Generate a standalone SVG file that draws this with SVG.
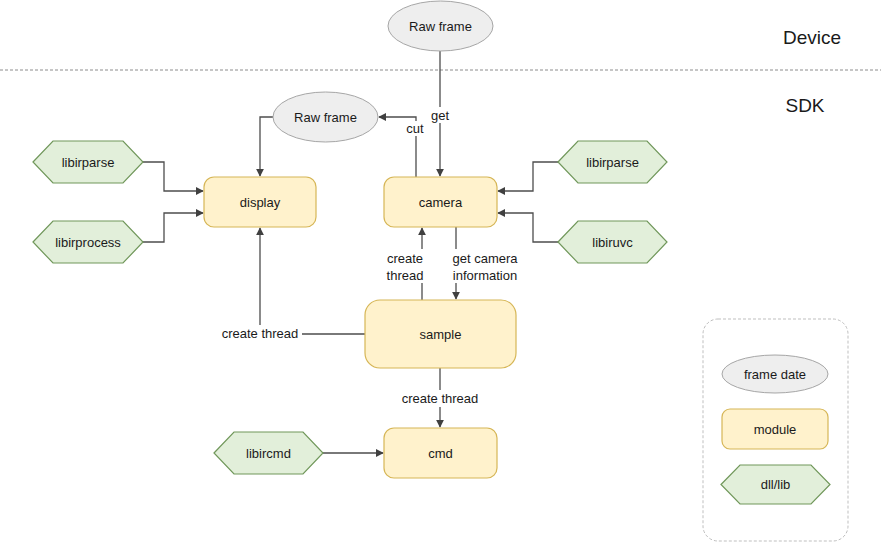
<svg xmlns="http://www.w3.org/2000/svg" width="881" height="543" viewBox="0 0 881 543">
<defs>
<style>
text{font-family:"Liberation Sans",Arial,sans-serif;font-size:13px;fill:#1a1a1a;text-anchor:middle;dominant-baseline:central}
.frame{fill:#eeeeee;stroke:#a6a6a6;stroke-width:1}
.mod{fill:#fff2cc;stroke:#d6b656;stroke-width:1.2}
.lib{fill:#e2efda;stroke:#70975a;stroke-width:1.2}
.c{fill:none;stroke:#4d4d4d;stroke-width:1.3}
.lbl{fill:#ffffff}
.big{font-size:19px}
</style>
<marker id="ah" markerWidth="8" markerHeight="8" viewBox="0 0 10 10" refX="9" refY="5" orient="auto" markerUnits="userSpaceOnUse">
<path d="M0,0 L10,5 L0,10 z" fill="#404040"/>
</marker>
</defs>
<rect width="881" height="543" fill="#ffffff"/>
<line x1="0" y1="70" x2="881" y2="70" stroke="#8c8c8c" stroke-width="1" stroke-dasharray="3,2"/>
<text class="big" x="812" y="37">Device</text>
<text class="big" x="805" y="105">SDK</text>

<g id="connectors">
<path class="c" d="M440,51 V176" marker-end="url(#ah)"/>
<path class="c" d="M416,177 V117 H379" marker-end="url(#ah)"/>
<path class="c" d="M273,117 H260 V176" marker-end="url(#ah)"/>
<path class="c" d="M143,162 H164 V191 H203" marker-end="url(#ah)"/>
<path class="c" d="M143,242 H164 V213 H203" marker-end="url(#ah)"/>
<path class="c" d="M558,162 H533 V191 H498" marker-end="url(#ah)"/>
<path class="c" d="M558,242 H533 V213 H498" marker-end="url(#ah)"/>
<path class="c" d="M422,300 V228" marker-end="url(#ah)"/>
<path class="c" d="M456,227 V299" marker-end="url(#ah)"/>
<path class="c" d="M365,334 H260 V228" marker-end="url(#ah)"/>
<path class="c" d="M440,368 V427" marker-end="url(#ah)"/>
<path class="c" d="M323,453 H383" marker-end="url(#ah)"/>
<rect class="lbl" x="429" y="107" width="22" height="16"/>
<text x="440" y="115">get</text>
<rect class="lbl" x="404" y="121" width="24" height="15"/>
<text x="415" y="128">cut</text>
<rect class="lbl" x="384" y="249" width="44" height="34"/>
<text x="405" y="258">create</text>
<text x="405" y="275">thread</text>
<rect class="lbl" x="448" y="249" width="74" height="34"/>
<text x="485" y="258">get camera</text>
<text x="485" y="275">information</text>
<rect class="lbl" x="219" y="325" width="83" height="17"/>
<text x="260" y="333">create thread</text>
<rect class="lbl" x="399" y="390" width="83" height="17"/>
<text x="440" y="398">create thread</text>
</g>

<g id="raw-frame-device">
<ellipse class="frame" cx="440.5" cy="26" rx="52.5" ry="25"/>
<text x="440.5" y="26">Raw frame</text>
</g>
<g id="raw-frame-sdk">
<ellipse class="frame" cx="325.5" cy="117" rx="52.5" ry="25"/>
<text x="325.5" y="117">Raw frame</text>
</g>
<g id="display">
<rect class="mod" x="204" y="177" width="112" height="50" rx="10"/>
<text x="260" y="202">display</text>
</g>
<g id="camera">
<rect class="mod" x="384" y="177" width="113" height="50" rx="10"/>
<text x="440.5" y="202">camera</text>
</g>
<g id="sample">
<rect class="mod" x="365" y="300" width="151" height="68" rx="15"/>
<text x="440.5" y="334">sample</text>
</g>
<g id="cmd">
<rect class="mod" x="384" y="428" width="113" height="50" rx="10"/>
<text x="440.5" y="453">cmd</text>
</g>
<g id="libirparse-left">
<polygon class="lib" points="33,162 53,141 123,141 143,162 123,183 53,183"/>
<text x="88" y="162">libirparse</text>
</g>
<g id="libirprocess">
<polygon class="lib" points="33,242 53,221 123,221 143,242 123,263 53,263"/>
<text x="88" y="242">libirprocess</text>
</g>
<g id="libirparse-right">
<polygon class="lib" points="558,162 578,141 647,141 667,162 647,183 578,183"/>
<text x="612.5" y="162">libirparse</text>
</g>
<g id="libiruvc">
<polygon class="lib" points="558,242 578,221 647,221 667,242 647,263 578,263"/>
<text x="612.5" y="242">libiruvc</text>
</g>
<g id="libircmd">
<polygon class="lib" points="214,453 234,432 303,432 323,453 303,474 234,474"/>
<text x="268.5" y="453">libircmd</text>
</g>

<g id="legend">
<rect x="703" y="319" width="145" height="222" rx="15" fill="none" stroke="#bfbfbf" stroke-width="1" stroke-dasharray="3,2"/>
<ellipse class="frame" cx="775" cy="374" rx="53" ry="19"/>
<text x="775" y="374">frame date</text>
<rect class="mod" x="722" y="409" width="106" height="40" rx="8"/>
<text x="775" y="429">module</text>
<polygon class="lib" points="721,484.5 740,465 811,465 830,484.5 811,504 740,504"/>
<text x="775.5" y="484.5">dll/lib</text>
</g>
</svg>
